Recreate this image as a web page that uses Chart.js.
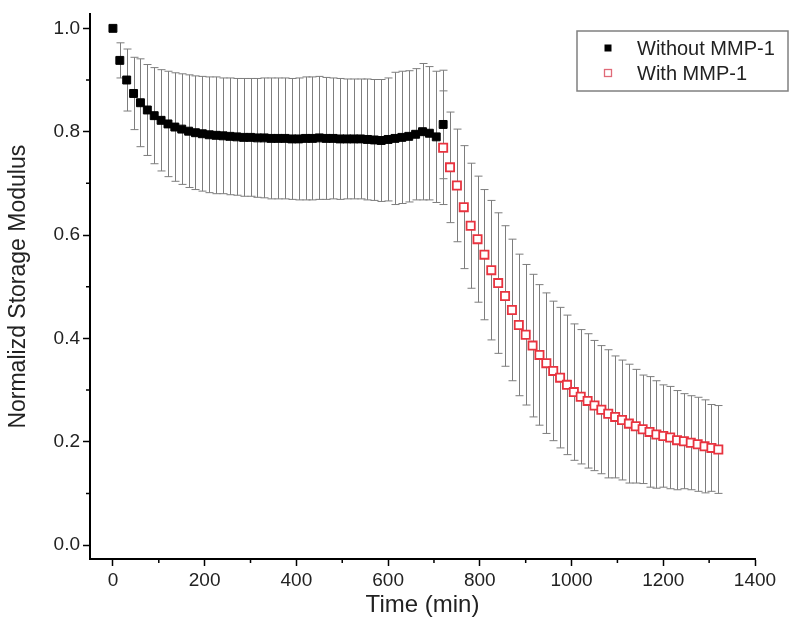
<!DOCTYPE html>
<html><head><meta charset="utf-8">
<script src="https://cdn.jsdelivr.net/npm/chart.js@4.4.1/dist/chart.umd.min.js"></script>
<style>html,body{margin:0;padding:0;background:#fff;}</style>
</head><body>
<canvas id="c" width="800" height="640"></canvas>
<script>
// ---- data ----
const seriesLabels = ['Without MMP-1', 'With MMP-1'];

const timeWithout = [0,15,30,45,60,75,90,105,120,135,150,165,180,195,210,225,240,255,270,285,300,315,330,345,360,375,390,405,420,435,450,465,480,495,510,525,540,555,570,585,600,615,630,645,660,675,690,705,720];
const valWithout = [1.000,0.938,0.900,0.874,0.856,0.842,0.831,0.822,0.815,0.809,0.805,0.801,0.798,0.796,0.794,0.793,0.792,0.791,0.790,0.789,0.789,0.788,0.788,0.787,0.787,0.787,0.786,0.786,0.787,0.787,0.788,0.787,0.787,0.786,0.786,0.786,0.786,0.785,0.784,0.783,0.785,0.787,0.789,0.791,0.795,0.800,0.797,0.790,0.814];
const errWithout = [0,0.034,0.060,0.070,0.085,0.088,0.093,0.098,0.102,0.105,0.107,0.109,0.110,0.111,0.112,0.113,0.112,0.113,0.113,0.114,0.114,0.115,0.116,0.117,0.117,0.117,0.117,0.118,0.119,0.119,0.119,0.118,0.117,0.117,0.116,0.116,0.116,0.117,0.117,0.118,0.119,0.128,0.128,0.127,0.127,0.132,0.129,0.127,0.105];

const timeWith = [720,735,750,765,780,795,810,825,840,855,870,885,900,915,930,945,960,975,990,1005,1020,1035,1050,1065,1080,1095,1110,1125,1140,1155,1170,1185,1200,1215,1230,1245,1260,1275,1290,1305,1320];
const valWith = [0.769,0.731,0.696,0.654,0.618,0.592,0.562,0.532,0.507,0.482,0.455,0.426,0.407,0.386,0.368,0.352,0.337,0.324,0.310,0.296,0.287,0.279,0.270,0.262,0.254,0.248,0.242,0.235,0.230,0.224,0.219,0.214,0.211,0.208,0.203,0.201,0.198,0.195,0.191,0.188,0.185];
const errWith = [0.110,0.107,0.109,0.119,0.121,0.122,0.126,0.135,0.136,0.136,0.137,0.137,0.136,0.138,0.136,0.136,0.135,0.136,0.135,0.132,0.130,0.130,0.126,0.124,0.124,0.118,0.116,0.115,0.110,0.105,0.107,0.104,0.099,0.099,0.096,0.092,0.091,0.091,0.090,0.084,0.085];

const xTicks = [0,200,400,600,800,1000,1200,1400];
const xMinorTicks = [100,300,500,700,900,1100,1300];
const yTicks = [0.0,0.2,0.4,0.6,0.8,1.0];
const yMinorTicks = [0.1,0.3,0.5,0.7,0.9];

const FONT = "'Liberation Sans', Arial, Helvetica, sans-serif";

// ---- plugins ----
const errorBars = {
  id: 'errorBars',
  beforeDatasetsDraw(chart) {
    const {ctx, scales: {x, y}} = chart;
    ctx.save();
    ctx.strokeStyle = '#7d7d7d';
    ctx.lineWidth = 1;
    chart.data.datasets.forEach(ds => {
      ds.data.forEach(p => {
        if (!p.e) return;
        const px = Math.round(x.getPixelForValue(p.x)) + 0.5;
        const top = y.getPixelForValue(p.y + p.e);
        const bot = y.getPixelForValue(p.y - p.e);
        ctx.beginPath();
        ctx.moveTo(px, top); ctx.lineTo(px, bot);
        ctx.moveTo(px - 4, top); ctx.lineTo(px + 4, top);
        ctx.moveTo(px - 4, bot); ctx.lineTo(px + 4, bot);
        ctx.stroke();
      });
    });
    ctx.restore();
  }
};

const minorTicks = {
  id: 'minorTicks',
  afterDraw(chart) {
    const {ctx, scales: {x, y}, chartArea} = chart;
    ctx.save();
    ctx.strokeStyle = '#000';
    ctx.lineWidth = 1.5;
    ctx.beginPath();
    xMinorTicks.forEach(v => {
      const px = x.getPixelForValue(v);
      ctx.moveTo(px, chartArea.bottom); ctx.lineTo(px, chartArea.bottom + 4);
    });
    yMinorTicks.forEach(v => {
      const py = y.getPixelForValue(v);
      ctx.moveTo(chartArea.left, py); ctx.lineTo(chartArea.left - 4, py);
    });
    ctx.stroke();
    ctx.restore();
  }
};

const boxLegend = {
  id: 'boxLegend',
  afterDraw(chart) {
    const {ctx, chartArea} = chart;
    const bx = chartArea.right - 178, by = 31, bw = 211, bh = 60;
    ctx.save();
    ctx.fillStyle = '#fff';
    ctx.fillRect(bx, by, bw, bh);
    ctx.strokeStyle = '#808080';
    ctx.lineWidth = 1.5;
    ctx.strokeRect(bx, by, bw, bh);
    const rows = [by + 17, by + 42];
    chart.data.datasets.forEach((ds, i) => {
      const cx = bx + 31, cy = rows[i];
      if (i === 0) {
        ctx.fillStyle = '#000';
        ctx.fillRect(cx - 3.5, cy - 3.5, 7, 7);
      } else {
        ctx.fillStyle = '#fff';
        ctx.fillRect(cx - 3.5, cy - 3.5, 7, 7);
        ctx.strokeStyle = '#e06a78';
        ctx.lineWidth = 1.3;
        ctx.strokeRect(cx - 3.5, cy - 3.5, 7, 7);
      }
      ctx.fillStyle = '#222';
      ctx.font = '20px ' + FONT;
      ctx.textBaseline = 'middle';
      ctx.textAlign = 'left';
      ctx.fillText(ds.label, bx + 60, cy + 1);
    });
    ctx.restore();
  }
};

// ---- chart ----
new Chart(document.getElementById('c'), {
  type: 'scatter',
  data: {
    datasets: [
      {
        label: seriesLabels[0],
        data: timeWithout.map((t, i) => ({x: t, y: valWithout[i], e: errWithout[i]})),
        pointStyle: 'rect', pointRadius: 5.6, borderWidth: 1,
        backgroundColor: '#000', borderColor: '#000', showLine: false
      },
      {
        label: seriesLabels[1],
        data: timeWith.map((t, i) => ({x: t, y: valWith[i], e: errWith[i]})),
        pointStyle: 'rect', pointRadius: 5.8, borderWidth: 1.8,
        backgroundColor: '#fff', borderColor: '#e8333f', showLine: false
      }
    ]
  },
  options: {
    responsive: false,
    animation: false,
    events: [],
    layout: {padding: {top: 13, right: 45, left: 0, bottom: 0}},
    plugins: {legend: {display: false}, tooltip: {enabled: false}},
    scales: {
      x: {
        type: 'linear', min: -50, max: 1400,
        afterBuildTicks: s => { s.ticks = xTicks.map(v => ({value: v})); },
        afterFit: s => { s.height = 81; },
        grid: {drawOnChartArea: false, drawTicks: true, tickLength: 7, tickColor: '#000', tickWidth: 1.5},
        border: {display: true, color: '#000', width: 2},
        ticks: {color: '#222', font: {size: 19, family: FONT}, padding: 3, maxRotation: 0, autoSkip: false,
                callback: v => String(v)},
        title: {display: true, text: 'Time (min)', color: '#222', font: {size: 24, family: FONT},
                padding: {top: 0, bottom: 20}}
      },
      y: {
        type: 'linear', min: -0.027, max: 1.027,
        afterBuildTicks: s => { s.ticks = yTicks.map(v => ({value: v})); },
        afterFit: s => { s.width = 90; },
        grid: {drawOnChartArea: false, drawTicks: true, tickLength: 7, tickColor: '#000', tickWidth: 1.5},
        border: {display: true, color: '#000', width: 2},
        ticks: {color: '#222', font: {size: 19, family: FONT}, padding: 3, autoSkip: false,
                callback: v => Number(v).toFixed(1)},
        title: {display: true, text: 'Normalizd Storage Modulus', color: '#222', font: {size: 23, family: FONT},
                padding: {top: 5, bottom: 0}}
      }
    }
  },
  plugins: [errorBars, minorTicks, boxLegend]
});
</script>
</body></html>
